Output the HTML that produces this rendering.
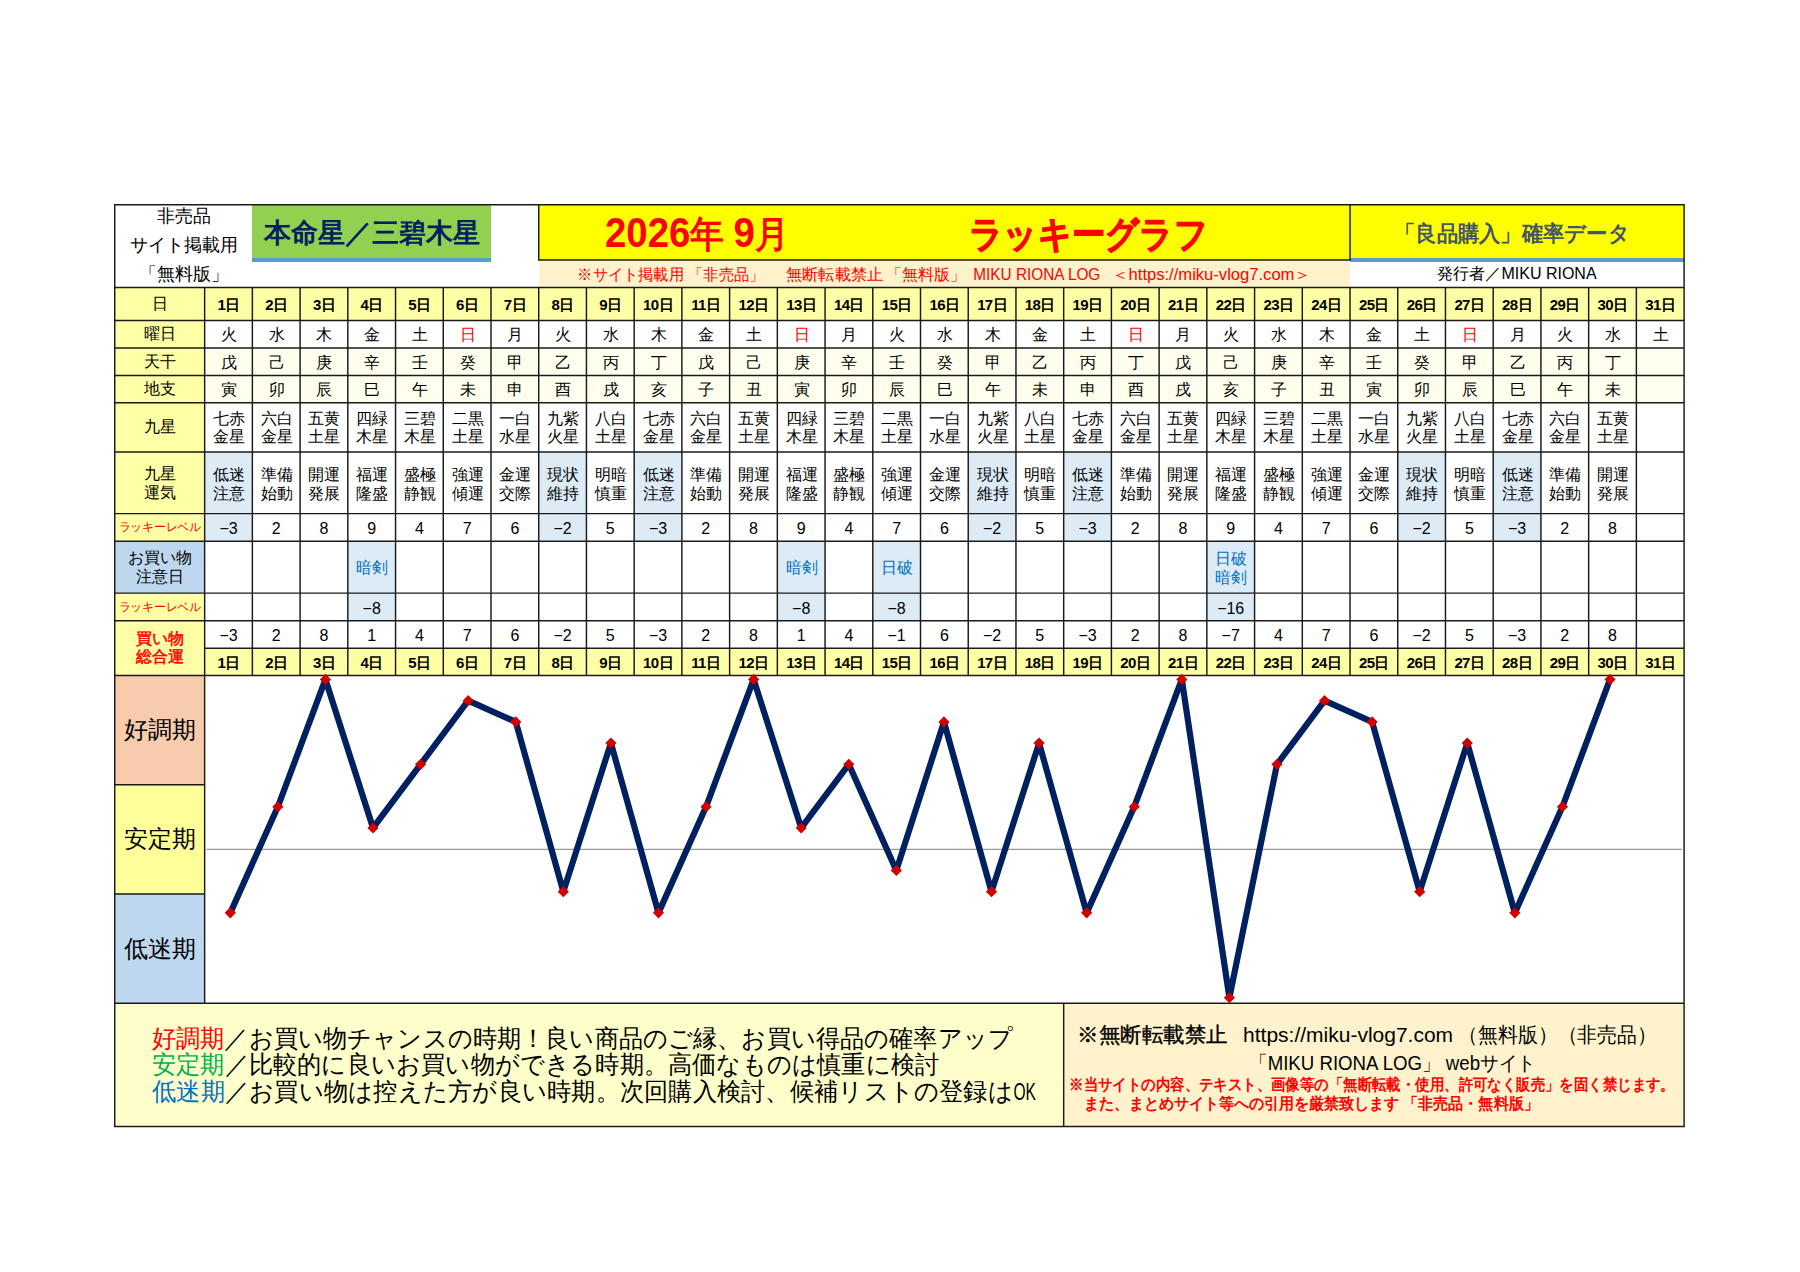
<!DOCTYPE html>
<html lang="ja"><head><meta charset="utf-8"><title>ラッキーグラフ 2026年9月</title>
<style>
*{margin:0;padding:0;box-sizing:border-box}
html,body{width:1800px;height:1272px;background:#fff;overflow:hidden}
body{position:relative;font-family:"Liberation Sans",sans-serif;color:#000;font-size:16px}
.p{position:absolute;display:flex;align-items:center;justify-content:center;text-align:center;white-space:nowrap;line-height:1}
.p span{display:block}
.two{flex-direction:column}
.k{padding-top:3.5px}
.k span{line-height:18px}
.u span{line-height:19px}
.warn span{line-height:19px}
.lab.two span{line-height:19px}
.sumlab span{line-height:18.5px}
.lab{font-size:16px}
.c{font-size:16px;padding-top:2px;padding-left:1px}
.n{font-size:16px;padding-top:3.5px}
.dayh{font-size:15px;font-weight:bold;letter-spacing:-0.6px;padding-top:1px}
.red{color:#FF0000}
.lucky{color:#FF0000;font-size:12.2px;letter-spacing:-0.25px}
.warn{color:#0070C0}
.sumlab{color:#FF0000;font-size:16px;-webkit-text-stroke:0.5px #FF0000}
.big{font-size:24px}
svg{position:absolute;left:0;top:0}
svg text{font-family:"Liberation Sans",sans-serif}
</style></head><body>

<div class="p" style="left:252.37px;top:204.75px;width:238.62px;height:53.95px;background:#92D050;"></div>
<div class="p" style="left:252.37px;top:258.4px;width:238.62px;height:3.9px;background:#5B9BD5;"></div>
<div class="p" style="left:538.72px;top:204.75px;width:811.31px;height:55.25px;background:#FFFF00;"></div>
<div class="p" style="left:1350.03px;top:204.75px;width:334.07px;height:53.95px;background:#FFFF00;"></div>
<div class="p" style="left:1350.03px;top:258.4px;width:334.07px;height:3.9px;background:#5B9BD5;"></div>
<div class="p" style="left:538.72px;top:260px;width:811.31px;height:27.5px;background:#FFF2CC;"></div>
<div class="p" style="left:114.75px;top:1003.2px;width:948.93px;height:123.2px;background:#FFFFCC;"></div>
<div class="p" style="left:1063.68px;top:1003.2px;width:620.42px;height:123.2px;background:#FFF2CC;"></div>
<div class="p lab" style="left:114.75px;top:287.5px;width:89.9px;height:32.9px;background:#FFFFA6;">日</div>
<div class="p lab" style="left:114.75px;top:320.4px;width:89.9px;height:27.5px;background:#FFFFA6;">曜日</div>
<div class="p lab" style="left:114.75px;top:347.9px;width:89.9px;height:27.6px;background:#FFFFA6;">天干</div>
<div class="p lab" style="left:114.75px;top:375.5px;width:89.9px;height:27.3px;background:#FFFFA6;">地支</div>
<div class="p lab" style="left:114.75px;top:402.8px;width:89.9px;height:49.2px;background:#FFFFA6;">九星</div>
<div class="p lab two" style="left:114.75px;top:452px;width:89.9px;height:61.6px;background:#FFFFA6;"><span>九星</span><span>運気</span></div>
<div class="p lucky" style="left:114.75px;top:513.6px;width:89.9px;height:27.6px;background:#FFFFA6;">ラッキーレベル</div>
<div class="p lab two" style="left:114.75px;top:541.2px;width:89.9px;height:51.9px;background:#BDD7EE;"><span>お買い物</span><span>注意日</span></div>
<div class="p lucky" style="left:114.75px;top:593.1px;width:89.9px;height:27.6px;background:#FFFFA6;">ラッキーレベル</div>
<div class="p sumlab two" style="left:114.75px;top:620.7px;width:89.9px;height:54.8px;background:#FFFFA6;"><span>買い物</span><span>総合運</span></div>
<div class="p big" style="left:114.75px;top:675.5px;width:89.9px;height:109.3px;background:#F8CBAD;">好調期</div>
<div class="p big" style="left:114.75px;top:784.8px;width:89.9px;height:109.2px;background:#FFFF99;">安定期</div>
<div class="p big" style="left:114.75px;top:894px;width:89.9px;height:109.2px;background:#BDD7EE;">低迷期</div>
<div class="p dayh" style="left:204.65px;top:287.5px;width:47.72px;height:32.9px;background:#FFFFA6;">1日</div>
<div class="p c" style="left:204.65px;top:320.4px;width:47.72px;height:27.5px;">火</div>
<div class="p c" style="left:204.65px;top:347.9px;width:47.72px;height:27.6px;background:#FFFFEE;">戊</div>
<div class="p c" style="left:204.65px;top:375.5px;width:47.72px;height:27.3px;background:#FFFFEE;">寅</div>
<div class="p c two k" style="left:204.65px;top:402.8px;width:47.72px;height:49.2px;"><span>七赤</span><span>金星</span></div>
<div class="p c two u" style="left:204.65px;top:452px;width:47.72px;height:61.6px;background:#DDEBF7;"><span>低迷</span><span>注意</span></div>
<div class="p n" style="left:204.65px;top:513.6px;width:47.72px;height:27.6px;background:#DDEBF7;">−3</div>
<div class="p n" style="left:204.65px;top:620.7px;width:47.72px;height:27.6px;">−3</div>
<div class="p dayh" style="left:204.65px;top:648.3px;width:47.72px;height:27.2px;background:#FFFFA6;">1日</div>
<div class="p dayh" style="left:252.37px;top:287.5px;width:47.72px;height:32.9px;background:#FFFFA6;">2日</div>
<div class="p c" style="left:252.37px;top:320.4px;width:47.72px;height:27.5px;">水</div>
<div class="p c" style="left:252.37px;top:347.9px;width:47.72px;height:27.6px;background:#FFFFEE;">己</div>
<div class="p c" style="left:252.37px;top:375.5px;width:47.72px;height:27.3px;background:#FFFFEE;">卯</div>
<div class="p c two k" style="left:252.37px;top:402.8px;width:47.72px;height:49.2px;"><span>六白</span><span>金星</span></div>
<div class="p c two u" style="left:252.37px;top:452px;width:47.72px;height:61.6px;"><span>準備</span><span>始動</span></div>
<div class="p n" style="left:252.37px;top:513.6px;width:47.72px;height:27.6px;">2</div>
<div class="p n" style="left:252.37px;top:620.7px;width:47.72px;height:27.6px;">2</div>
<div class="p dayh" style="left:252.37px;top:648.3px;width:47.72px;height:27.2px;background:#FFFFA6;">2日</div>
<div class="p dayh" style="left:300.1px;top:287.5px;width:47.72px;height:32.9px;background:#FFFFA6;">3日</div>
<div class="p c" style="left:300.1px;top:320.4px;width:47.72px;height:27.5px;">木</div>
<div class="p c" style="left:300.1px;top:347.9px;width:47.72px;height:27.6px;background:#FFFFEE;">庚</div>
<div class="p c" style="left:300.1px;top:375.5px;width:47.72px;height:27.3px;background:#FFFFEE;">辰</div>
<div class="p c two k" style="left:300.1px;top:402.8px;width:47.72px;height:49.2px;"><span>五黄</span><span>土星</span></div>
<div class="p c two u" style="left:300.1px;top:452px;width:47.72px;height:61.6px;"><span>開運</span><span>発展</span></div>
<div class="p n" style="left:300.1px;top:513.6px;width:47.72px;height:27.6px;">8</div>
<div class="p n" style="left:300.1px;top:620.7px;width:47.72px;height:27.6px;">8</div>
<div class="p dayh" style="left:300.1px;top:648.3px;width:47.72px;height:27.2px;background:#FFFFA6;">3日</div>
<div class="p dayh" style="left:347.82px;top:287.5px;width:47.72px;height:32.9px;background:#FFFFA6;">4日</div>
<div class="p c" style="left:347.82px;top:320.4px;width:47.72px;height:27.5px;">金</div>
<div class="p c" style="left:347.82px;top:347.9px;width:47.72px;height:27.6px;background:#FFFFEE;">辛</div>
<div class="p c" style="left:347.82px;top:375.5px;width:47.72px;height:27.3px;background:#FFFFEE;">巳</div>
<div class="p c two k" style="left:347.82px;top:402.8px;width:47.72px;height:49.2px;"><span>四緑</span><span>木星</span></div>
<div class="p c two u" style="left:347.82px;top:452px;width:47.72px;height:61.6px;"><span>福運</span><span>隆盛</span></div>
<div class="p n" style="left:347.82px;top:513.6px;width:47.72px;height:27.6px;">9</div>
<div class="p c two warn" style="left:347.82px;top:541.2px;width:47.72px;height:51.9px;background:#DDEBF7;">暗剣</div>
<div class="p n" style="left:347.82px;top:593.1px;width:47.72px;height:27.6px;background:#DDEBF7;">−8</div>
<div class="p n" style="left:347.82px;top:620.7px;width:47.72px;height:27.6px;">1</div>
<div class="p dayh" style="left:347.82px;top:648.3px;width:47.72px;height:27.2px;background:#FFFFA6;">4日</div>
<div class="p dayh" style="left:395.55px;top:287.5px;width:47.72px;height:32.9px;background:#FFFFA6;">5日</div>
<div class="p c" style="left:395.55px;top:320.4px;width:47.72px;height:27.5px;">土</div>
<div class="p c" style="left:395.55px;top:347.9px;width:47.72px;height:27.6px;background:#FFFFEE;">壬</div>
<div class="p c" style="left:395.55px;top:375.5px;width:47.72px;height:27.3px;background:#FFFFEE;">午</div>
<div class="p c two k" style="left:395.55px;top:402.8px;width:47.72px;height:49.2px;"><span>三碧</span><span>木星</span></div>
<div class="p c two u" style="left:395.55px;top:452px;width:47.72px;height:61.6px;"><span>盛極</span><span>静観</span></div>
<div class="p n" style="left:395.55px;top:513.6px;width:47.72px;height:27.6px;">4</div>
<div class="p n" style="left:395.55px;top:620.7px;width:47.72px;height:27.6px;">4</div>
<div class="p dayh" style="left:395.55px;top:648.3px;width:47.72px;height:27.2px;background:#FFFFA6;">5日</div>
<div class="p dayh" style="left:443.27px;top:287.5px;width:47.72px;height:32.9px;background:#FFFFA6;">6日</div>
<div class="p c red" style="left:443.27px;top:320.4px;width:47.72px;height:27.5px;">日</div>
<div class="p c" style="left:443.27px;top:347.9px;width:47.72px;height:27.6px;background:#FFFFEE;">癸</div>
<div class="p c" style="left:443.27px;top:375.5px;width:47.72px;height:27.3px;background:#FFFFEE;">未</div>
<div class="p c two k" style="left:443.27px;top:402.8px;width:47.72px;height:49.2px;"><span>二黒</span><span>土星</span></div>
<div class="p c two u" style="left:443.27px;top:452px;width:47.72px;height:61.6px;"><span>強運</span><span>傾運</span></div>
<div class="p n" style="left:443.27px;top:513.6px;width:47.72px;height:27.6px;">7</div>
<div class="p n" style="left:443.27px;top:620.7px;width:47.72px;height:27.6px;">7</div>
<div class="p dayh" style="left:443.27px;top:648.3px;width:47.72px;height:27.2px;background:#FFFFA6;">6日</div>
<div class="p dayh" style="left:490.99px;top:287.5px;width:47.72px;height:32.9px;background:#FFFFA6;">7日</div>
<div class="p c" style="left:490.99px;top:320.4px;width:47.72px;height:27.5px;">月</div>
<div class="p c" style="left:490.99px;top:347.9px;width:47.72px;height:27.6px;background:#FFFFEE;">甲</div>
<div class="p c" style="left:490.99px;top:375.5px;width:47.72px;height:27.3px;background:#FFFFEE;">申</div>
<div class="p c two k" style="left:490.99px;top:402.8px;width:47.72px;height:49.2px;"><span>一白</span><span>水星</span></div>
<div class="p c two u" style="left:490.99px;top:452px;width:47.72px;height:61.6px;"><span>金運</span><span>交際</span></div>
<div class="p n" style="left:490.99px;top:513.6px;width:47.72px;height:27.6px;">6</div>
<div class="p n" style="left:490.99px;top:620.7px;width:47.72px;height:27.6px;">6</div>
<div class="p dayh" style="left:490.99px;top:648.3px;width:47.72px;height:27.2px;background:#FFFFA6;">7日</div>
<div class="p dayh" style="left:538.72px;top:287.5px;width:47.72px;height:32.9px;background:#FFFFA6;">8日</div>
<div class="p c" style="left:538.72px;top:320.4px;width:47.72px;height:27.5px;">火</div>
<div class="p c" style="left:538.72px;top:347.9px;width:47.72px;height:27.6px;background:#FFFFEE;">乙</div>
<div class="p c" style="left:538.72px;top:375.5px;width:47.72px;height:27.3px;background:#FFFFEE;">酉</div>
<div class="p c two k" style="left:538.72px;top:402.8px;width:47.72px;height:49.2px;"><span>九紫</span><span>火星</span></div>
<div class="p c two u" style="left:538.72px;top:452px;width:47.72px;height:61.6px;background:#DDEBF7;"><span>現状</span><span>維持</span></div>
<div class="p n" style="left:538.72px;top:513.6px;width:47.72px;height:27.6px;background:#DDEBF7;">−2</div>
<div class="p n" style="left:538.72px;top:620.7px;width:47.72px;height:27.6px;">−2</div>
<div class="p dayh" style="left:538.72px;top:648.3px;width:47.72px;height:27.2px;background:#FFFFA6;">8日</div>
<div class="p dayh" style="left:586.44px;top:287.5px;width:47.72px;height:32.9px;background:#FFFFA6;">9日</div>
<div class="p c" style="left:586.44px;top:320.4px;width:47.72px;height:27.5px;">水</div>
<div class="p c" style="left:586.44px;top:347.9px;width:47.72px;height:27.6px;background:#FFFFEE;">丙</div>
<div class="p c" style="left:586.44px;top:375.5px;width:47.72px;height:27.3px;background:#FFFFEE;">戌</div>
<div class="p c two k" style="left:586.44px;top:402.8px;width:47.72px;height:49.2px;"><span>八白</span><span>土星</span></div>
<div class="p c two u" style="left:586.44px;top:452px;width:47.72px;height:61.6px;"><span>明暗</span><span>慎重</span></div>
<div class="p n" style="left:586.44px;top:513.6px;width:47.72px;height:27.6px;">5</div>
<div class="p n" style="left:586.44px;top:620.7px;width:47.72px;height:27.6px;">5</div>
<div class="p dayh" style="left:586.44px;top:648.3px;width:47.72px;height:27.2px;background:#FFFFA6;">9日</div>
<div class="p dayh" style="left:634.17px;top:287.5px;width:47.72px;height:32.9px;background:#FFFFA6;">10日</div>
<div class="p c" style="left:634.17px;top:320.4px;width:47.72px;height:27.5px;">木</div>
<div class="p c" style="left:634.17px;top:347.9px;width:47.72px;height:27.6px;background:#FFFFEE;">丁</div>
<div class="p c" style="left:634.17px;top:375.5px;width:47.72px;height:27.3px;background:#FFFFEE;">亥</div>
<div class="p c two k" style="left:634.17px;top:402.8px;width:47.72px;height:49.2px;"><span>七赤</span><span>金星</span></div>
<div class="p c two u" style="left:634.17px;top:452px;width:47.72px;height:61.6px;background:#DDEBF7;"><span>低迷</span><span>注意</span></div>
<div class="p n" style="left:634.17px;top:513.6px;width:47.72px;height:27.6px;background:#DDEBF7;">−3</div>
<div class="p n" style="left:634.17px;top:620.7px;width:47.72px;height:27.6px;">−3</div>
<div class="p dayh" style="left:634.17px;top:648.3px;width:47.72px;height:27.2px;background:#FFFFA6;">10日</div>
<div class="p dayh" style="left:681.89px;top:287.5px;width:47.72px;height:32.9px;background:#FFFFA6;">11日</div>
<div class="p c" style="left:681.89px;top:320.4px;width:47.72px;height:27.5px;">金</div>
<div class="p c" style="left:681.89px;top:347.9px;width:47.72px;height:27.6px;background:#FFFFEE;">戊</div>
<div class="p c" style="left:681.89px;top:375.5px;width:47.72px;height:27.3px;background:#FFFFEE;">子</div>
<div class="p c two k" style="left:681.89px;top:402.8px;width:47.72px;height:49.2px;"><span>六白</span><span>金星</span></div>
<div class="p c two u" style="left:681.89px;top:452px;width:47.72px;height:61.6px;"><span>準備</span><span>始動</span></div>
<div class="p n" style="left:681.89px;top:513.6px;width:47.72px;height:27.6px;">2</div>
<div class="p n" style="left:681.89px;top:620.7px;width:47.72px;height:27.6px;">2</div>
<div class="p dayh" style="left:681.89px;top:648.3px;width:47.72px;height:27.2px;background:#FFFFA6;">11日</div>
<div class="p dayh" style="left:729.61px;top:287.5px;width:47.72px;height:32.9px;background:#FFFFA6;">12日</div>
<div class="p c" style="left:729.61px;top:320.4px;width:47.72px;height:27.5px;">土</div>
<div class="p c" style="left:729.61px;top:347.9px;width:47.72px;height:27.6px;background:#FFFFEE;">己</div>
<div class="p c" style="left:729.61px;top:375.5px;width:47.72px;height:27.3px;background:#FFFFEE;">丑</div>
<div class="p c two k" style="left:729.61px;top:402.8px;width:47.72px;height:49.2px;"><span>五黄</span><span>土星</span></div>
<div class="p c two u" style="left:729.61px;top:452px;width:47.72px;height:61.6px;"><span>開運</span><span>発展</span></div>
<div class="p n" style="left:729.61px;top:513.6px;width:47.72px;height:27.6px;">8</div>
<div class="p n" style="left:729.61px;top:620.7px;width:47.72px;height:27.6px;">8</div>
<div class="p dayh" style="left:729.61px;top:648.3px;width:47.72px;height:27.2px;background:#FFFFA6;">12日</div>
<div class="p dayh" style="left:777.34px;top:287.5px;width:47.72px;height:32.9px;background:#FFFFA6;">13日</div>
<div class="p c red" style="left:777.34px;top:320.4px;width:47.72px;height:27.5px;">日</div>
<div class="p c" style="left:777.34px;top:347.9px;width:47.72px;height:27.6px;background:#FFFFEE;">庚</div>
<div class="p c" style="left:777.34px;top:375.5px;width:47.72px;height:27.3px;background:#FFFFEE;">寅</div>
<div class="p c two k" style="left:777.34px;top:402.8px;width:47.72px;height:49.2px;"><span>四緑</span><span>木星</span></div>
<div class="p c two u" style="left:777.34px;top:452px;width:47.72px;height:61.6px;"><span>福運</span><span>隆盛</span></div>
<div class="p n" style="left:777.34px;top:513.6px;width:47.72px;height:27.6px;">9</div>
<div class="p c two warn" style="left:777.34px;top:541.2px;width:47.72px;height:51.9px;background:#DDEBF7;">暗剣</div>
<div class="p n" style="left:777.34px;top:593.1px;width:47.72px;height:27.6px;background:#DDEBF7;">−8</div>
<div class="p n" style="left:777.34px;top:620.7px;width:47.72px;height:27.6px;">1</div>
<div class="p dayh" style="left:777.34px;top:648.3px;width:47.72px;height:27.2px;background:#FFFFA6;">13日</div>
<div class="p dayh" style="left:825.06px;top:287.5px;width:47.72px;height:32.9px;background:#FFFFA6;">14日</div>
<div class="p c" style="left:825.06px;top:320.4px;width:47.72px;height:27.5px;">月</div>
<div class="p c" style="left:825.06px;top:347.9px;width:47.72px;height:27.6px;background:#FFFFEE;">辛</div>
<div class="p c" style="left:825.06px;top:375.5px;width:47.72px;height:27.3px;background:#FFFFEE;">卯</div>
<div class="p c two k" style="left:825.06px;top:402.8px;width:47.72px;height:49.2px;"><span>三碧</span><span>木星</span></div>
<div class="p c two u" style="left:825.06px;top:452px;width:47.72px;height:61.6px;"><span>盛極</span><span>静観</span></div>
<div class="p n" style="left:825.06px;top:513.6px;width:47.72px;height:27.6px;">4</div>
<div class="p n" style="left:825.06px;top:620.7px;width:47.72px;height:27.6px;">4</div>
<div class="p dayh" style="left:825.06px;top:648.3px;width:47.72px;height:27.2px;background:#FFFFA6;">14日</div>
<div class="p dayh" style="left:872.79px;top:287.5px;width:47.72px;height:32.9px;background:#FFFFA6;">15日</div>
<div class="p c" style="left:872.79px;top:320.4px;width:47.72px;height:27.5px;">火</div>
<div class="p c" style="left:872.79px;top:347.9px;width:47.72px;height:27.6px;background:#FFFFEE;">壬</div>
<div class="p c" style="left:872.79px;top:375.5px;width:47.72px;height:27.3px;background:#FFFFEE;">辰</div>
<div class="p c two k" style="left:872.79px;top:402.8px;width:47.72px;height:49.2px;"><span>二黒</span><span>土星</span></div>
<div class="p c two u" style="left:872.79px;top:452px;width:47.72px;height:61.6px;"><span>強運</span><span>傾運</span></div>
<div class="p n" style="left:872.79px;top:513.6px;width:47.72px;height:27.6px;">7</div>
<div class="p c two warn" style="left:872.79px;top:541.2px;width:47.72px;height:51.9px;background:#DDEBF7;">日破</div>
<div class="p n" style="left:872.79px;top:593.1px;width:47.72px;height:27.6px;background:#DDEBF7;">−8</div>
<div class="p n" style="left:872.79px;top:620.7px;width:47.72px;height:27.6px;">−1</div>
<div class="p dayh" style="left:872.79px;top:648.3px;width:47.72px;height:27.2px;background:#FFFFA6;">15日</div>
<div class="p dayh" style="left:920.51px;top:287.5px;width:47.72px;height:32.9px;background:#FFFFA6;">16日</div>
<div class="p c" style="left:920.51px;top:320.4px;width:47.72px;height:27.5px;">水</div>
<div class="p c" style="left:920.51px;top:347.9px;width:47.72px;height:27.6px;background:#FFFFEE;">癸</div>
<div class="p c" style="left:920.51px;top:375.5px;width:47.72px;height:27.3px;background:#FFFFEE;">巳</div>
<div class="p c two k" style="left:920.51px;top:402.8px;width:47.72px;height:49.2px;"><span>一白</span><span>水星</span></div>
<div class="p c two u" style="left:920.51px;top:452px;width:47.72px;height:61.6px;"><span>金運</span><span>交際</span></div>
<div class="p n" style="left:920.51px;top:513.6px;width:47.72px;height:27.6px;">6</div>
<div class="p n" style="left:920.51px;top:620.7px;width:47.72px;height:27.6px;">6</div>
<div class="p dayh" style="left:920.51px;top:648.3px;width:47.72px;height:27.2px;background:#FFFFA6;">16日</div>
<div class="p dayh" style="left:968.23px;top:287.5px;width:47.72px;height:32.9px;background:#FFFFA6;">17日</div>
<div class="p c" style="left:968.23px;top:320.4px;width:47.72px;height:27.5px;">木</div>
<div class="p c" style="left:968.23px;top:347.9px;width:47.72px;height:27.6px;background:#FFFFEE;">甲</div>
<div class="p c" style="left:968.23px;top:375.5px;width:47.72px;height:27.3px;background:#FFFFEE;">午</div>
<div class="p c two k" style="left:968.23px;top:402.8px;width:47.72px;height:49.2px;"><span>九紫</span><span>火星</span></div>
<div class="p c two u" style="left:968.23px;top:452px;width:47.72px;height:61.6px;background:#DDEBF7;"><span>現状</span><span>維持</span></div>
<div class="p n" style="left:968.23px;top:513.6px;width:47.72px;height:27.6px;background:#DDEBF7;">−2</div>
<div class="p n" style="left:968.23px;top:620.7px;width:47.72px;height:27.6px;">−2</div>
<div class="p dayh" style="left:968.23px;top:648.3px;width:47.72px;height:27.2px;background:#FFFFA6;">17日</div>
<div class="p dayh" style="left:1015.96px;top:287.5px;width:47.72px;height:32.9px;background:#FFFFA6;">18日</div>
<div class="p c" style="left:1015.96px;top:320.4px;width:47.72px;height:27.5px;">金</div>
<div class="p c" style="left:1015.96px;top:347.9px;width:47.72px;height:27.6px;background:#FFFFEE;">乙</div>
<div class="p c" style="left:1015.96px;top:375.5px;width:47.72px;height:27.3px;background:#FFFFEE;">未</div>
<div class="p c two k" style="left:1015.96px;top:402.8px;width:47.72px;height:49.2px;"><span>八白</span><span>土星</span></div>
<div class="p c two u" style="left:1015.96px;top:452px;width:47.72px;height:61.6px;"><span>明暗</span><span>慎重</span></div>
<div class="p n" style="left:1015.96px;top:513.6px;width:47.72px;height:27.6px;">5</div>
<div class="p n" style="left:1015.96px;top:620.7px;width:47.72px;height:27.6px;">5</div>
<div class="p dayh" style="left:1015.96px;top:648.3px;width:47.72px;height:27.2px;background:#FFFFA6;">18日</div>
<div class="p dayh" style="left:1063.68px;top:287.5px;width:47.72px;height:32.9px;background:#FFFFA6;">19日</div>
<div class="p c" style="left:1063.68px;top:320.4px;width:47.72px;height:27.5px;">土</div>
<div class="p c" style="left:1063.68px;top:347.9px;width:47.72px;height:27.6px;background:#FFFFEE;">丙</div>
<div class="p c" style="left:1063.68px;top:375.5px;width:47.72px;height:27.3px;background:#FFFFEE;">申</div>
<div class="p c two k" style="left:1063.68px;top:402.8px;width:47.72px;height:49.2px;"><span>七赤</span><span>金星</span></div>
<div class="p c two u" style="left:1063.68px;top:452px;width:47.72px;height:61.6px;background:#DDEBF7;"><span>低迷</span><span>注意</span></div>
<div class="p n" style="left:1063.68px;top:513.6px;width:47.72px;height:27.6px;background:#DDEBF7;">−3</div>
<div class="p n" style="left:1063.68px;top:620.7px;width:47.72px;height:27.6px;">−3</div>
<div class="p dayh" style="left:1063.68px;top:648.3px;width:47.72px;height:27.2px;background:#FFFFA6;">19日</div>
<div class="p dayh" style="left:1111.41px;top:287.5px;width:47.72px;height:32.9px;background:#FFFFA6;">20日</div>
<div class="p c red" style="left:1111.41px;top:320.4px;width:47.72px;height:27.5px;">日</div>
<div class="p c" style="left:1111.41px;top:347.9px;width:47.72px;height:27.6px;background:#FFFFEE;">丁</div>
<div class="p c" style="left:1111.41px;top:375.5px;width:47.72px;height:27.3px;background:#FFFFEE;">酉</div>
<div class="p c two k" style="left:1111.41px;top:402.8px;width:47.72px;height:49.2px;"><span>六白</span><span>金星</span></div>
<div class="p c two u" style="left:1111.41px;top:452px;width:47.72px;height:61.6px;"><span>準備</span><span>始動</span></div>
<div class="p n" style="left:1111.41px;top:513.6px;width:47.72px;height:27.6px;">2</div>
<div class="p n" style="left:1111.41px;top:620.7px;width:47.72px;height:27.6px;">2</div>
<div class="p dayh" style="left:1111.41px;top:648.3px;width:47.72px;height:27.2px;background:#FFFFA6;">20日</div>
<div class="p dayh" style="left:1159.13px;top:287.5px;width:47.72px;height:32.9px;background:#FFFFA6;">21日</div>
<div class="p c" style="left:1159.13px;top:320.4px;width:47.72px;height:27.5px;">月</div>
<div class="p c" style="left:1159.13px;top:347.9px;width:47.72px;height:27.6px;background:#FFFFEE;">戊</div>
<div class="p c" style="left:1159.13px;top:375.5px;width:47.72px;height:27.3px;background:#FFFFEE;">戌</div>
<div class="p c two k" style="left:1159.13px;top:402.8px;width:47.72px;height:49.2px;"><span>五黄</span><span>土星</span></div>
<div class="p c two u" style="left:1159.13px;top:452px;width:47.72px;height:61.6px;"><span>開運</span><span>発展</span></div>
<div class="p n" style="left:1159.13px;top:513.6px;width:47.72px;height:27.6px;">8</div>
<div class="p n" style="left:1159.13px;top:620.7px;width:47.72px;height:27.6px;">8</div>
<div class="p dayh" style="left:1159.13px;top:648.3px;width:47.72px;height:27.2px;background:#FFFFA6;">21日</div>
<div class="p dayh" style="left:1206.85px;top:287.5px;width:47.72px;height:32.9px;background:#FFFFA6;">22日</div>
<div class="p c" style="left:1206.85px;top:320.4px;width:47.72px;height:27.5px;">火</div>
<div class="p c" style="left:1206.85px;top:347.9px;width:47.72px;height:27.6px;background:#FFFFEE;">己</div>
<div class="p c" style="left:1206.85px;top:375.5px;width:47.72px;height:27.3px;background:#FFFFEE;">亥</div>
<div class="p c two k" style="left:1206.85px;top:402.8px;width:47.72px;height:49.2px;"><span>四緑</span><span>木星</span></div>
<div class="p c two u" style="left:1206.85px;top:452px;width:47.72px;height:61.6px;"><span>福運</span><span>隆盛</span></div>
<div class="p n" style="left:1206.85px;top:513.6px;width:47.72px;height:27.6px;">9</div>
<div class="p c two warn" style="left:1206.85px;top:541.2px;width:47.72px;height:51.9px;background:#DDEBF7;"><span>日破</span><span>暗剣</span></div>
<div class="p n" style="left:1206.85px;top:593.1px;width:47.72px;height:27.6px;background:#DDEBF7;">−16</div>
<div class="p n" style="left:1206.85px;top:620.7px;width:47.72px;height:27.6px;">−7</div>
<div class="p dayh" style="left:1206.85px;top:648.3px;width:47.72px;height:27.2px;background:#FFFFA6;">22日</div>
<div class="p dayh" style="left:1254.58px;top:287.5px;width:47.72px;height:32.9px;background:#FFFFA6;">23日</div>
<div class="p c" style="left:1254.58px;top:320.4px;width:47.72px;height:27.5px;">水</div>
<div class="p c" style="left:1254.58px;top:347.9px;width:47.72px;height:27.6px;background:#FFFFEE;">庚</div>
<div class="p c" style="left:1254.58px;top:375.5px;width:47.72px;height:27.3px;background:#FFFFEE;">子</div>
<div class="p c two k" style="left:1254.58px;top:402.8px;width:47.72px;height:49.2px;"><span>三碧</span><span>木星</span></div>
<div class="p c two u" style="left:1254.58px;top:452px;width:47.72px;height:61.6px;"><span>盛極</span><span>静観</span></div>
<div class="p n" style="left:1254.58px;top:513.6px;width:47.72px;height:27.6px;">4</div>
<div class="p n" style="left:1254.58px;top:620.7px;width:47.72px;height:27.6px;">4</div>
<div class="p dayh" style="left:1254.58px;top:648.3px;width:47.72px;height:27.2px;background:#FFFFA6;">23日</div>
<div class="p dayh" style="left:1302.3px;top:287.5px;width:47.72px;height:32.9px;background:#FFFFA6;">24日</div>
<div class="p c" style="left:1302.3px;top:320.4px;width:47.72px;height:27.5px;">木</div>
<div class="p c" style="left:1302.3px;top:347.9px;width:47.72px;height:27.6px;background:#FFFFEE;">辛</div>
<div class="p c" style="left:1302.3px;top:375.5px;width:47.72px;height:27.3px;background:#FFFFEE;">丑</div>
<div class="p c two k" style="left:1302.3px;top:402.8px;width:47.72px;height:49.2px;"><span>二黒</span><span>土星</span></div>
<div class="p c two u" style="left:1302.3px;top:452px;width:47.72px;height:61.6px;"><span>強運</span><span>傾運</span></div>
<div class="p n" style="left:1302.3px;top:513.6px;width:47.72px;height:27.6px;">7</div>
<div class="p n" style="left:1302.3px;top:620.7px;width:47.72px;height:27.6px;">7</div>
<div class="p dayh" style="left:1302.3px;top:648.3px;width:47.72px;height:27.2px;background:#FFFFA6;">24日</div>
<div class="p dayh" style="left:1350.03px;top:287.5px;width:47.72px;height:32.9px;background:#FFFFA6;">25日</div>
<div class="p c" style="left:1350.03px;top:320.4px;width:47.72px;height:27.5px;">金</div>
<div class="p c" style="left:1350.03px;top:347.9px;width:47.72px;height:27.6px;background:#FFFFEE;">壬</div>
<div class="p c" style="left:1350.03px;top:375.5px;width:47.72px;height:27.3px;background:#FFFFEE;">寅</div>
<div class="p c two k" style="left:1350.03px;top:402.8px;width:47.72px;height:49.2px;"><span>一白</span><span>水星</span></div>
<div class="p c two u" style="left:1350.03px;top:452px;width:47.72px;height:61.6px;"><span>金運</span><span>交際</span></div>
<div class="p n" style="left:1350.03px;top:513.6px;width:47.72px;height:27.6px;">6</div>
<div class="p n" style="left:1350.03px;top:620.7px;width:47.72px;height:27.6px;">6</div>
<div class="p dayh" style="left:1350.03px;top:648.3px;width:47.72px;height:27.2px;background:#FFFFA6;">25日</div>
<div class="p dayh" style="left:1397.75px;top:287.5px;width:47.72px;height:32.9px;background:#FFFFA6;">26日</div>
<div class="p c" style="left:1397.75px;top:320.4px;width:47.72px;height:27.5px;">土</div>
<div class="p c" style="left:1397.75px;top:347.9px;width:47.72px;height:27.6px;background:#FFFFEE;">癸</div>
<div class="p c" style="left:1397.75px;top:375.5px;width:47.72px;height:27.3px;background:#FFFFEE;">卯</div>
<div class="p c two k" style="left:1397.75px;top:402.8px;width:47.72px;height:49.2px;"><span>九紫</span><span>火星</span></div>
<div class="p c two u" style="left:1397.75px;top:452px;width:47.72px;height:61.6px;background:#DDEBF7;"><span>現状</span><span>維持</span></div>
<div class="p n" style="left:1397.75px;top:513.6px;width:47.72px;height:27.6px;background:#DDEBF7;">−2</div>
<div class="p n" style="left:1397.75px;top:620.7px;width:47.72px;height:27.6px;">−2</div>
<div class="p dayh" style="left:1397.75px;top:648.3px;width:47.72px;height:27.2px;background:#FFFFA6;">26日</div>
<div class="p dayh" style="left:1445.47px;top:287.5px;width:47.72px;height:32.9px;background:#FFFFA6;">27日</div>
<div class="p c red" style="left:1445.47px;top:320.4px;width:47.72px;height:27.5px;">日</div>
<div class="p c" style="left:1445.47px;top:347.9px;width:47.72px;height:27.6px;background:#FFFFEE;">甲</div>
<div class="p c" style="left:1445.47px;top:375.5px;width:47.72px;height:27.3px;background:#FFFFEE;">辰</div>
<div class="p c two k" style="left:1445.47px;top:402.8px;width:47.72px;height:49.2px;"><span>八白</span><span>土星</span></div>
<div class="p c two u" style="left:1445.47px;top:452px;width:47.72px;height:61.6px;"><span>明暗</span><span>慎重</span></div>
<div class="p n" style="left:1445.47px;top:513.6px;width:47.72px;height:27.6px;">5</div>
<div class="p n" style="left:1445.47px;top:620.7px;width:47.72px;height:27.6px;">5</div>
<div class="p dayh" style="left:1445.47px;top:648.3px;width:47.72px;height:27.2px;background:#FFFFA6;">27日</div>
<div class="p dayh" style="left:1493.2px;top:287.5px;width:47.72px;height:32.9px;background:#FFFFA6;">28日</div>
<div class="p c" style="left:1493.2px;top:320.4px;width:47.72px;height:27.5px;">月</div>
<div class="p c" style="left:1493.2px;top:347.9px;width:47.72px;height:27.6px;background:#FFFFEE;">乙</div>
<div class="p c" style="left:1493.2px;top:375.5px;width:47.72px;height:27.3px;background:#FFFFEE;">巳</div>
<div class="p c two k" style="left:1493.2px;top:402.8px;width:47.72px;height:49.2px;"><span>七赤</span><span>金星</span></div>
<div class="p c two u" style="left:1493.2px;top:452px;width:47.72px;height:61.6px;background:#DDEBF7;"><span>低迷</span><span>注意</span></div>
<div class="p n" style="left:1493.2px;top:513.6px;width:47.72px;height:27.6px;background:#DDEBF7;">−3</div>
<div class="p n" style="left:1493.2px;top:620.7px;width:47.72px;height:27.6px;">−3</div>
<div class="p dayh" style="left:1493.2px;top:648.3px;width:47.72px;height:27.2px;background:#FFFFA6;">28日</div>
<div class="p dayh" style="left:1540.92px;top:287.5px;width:47.72px;height:32.9px;background:#FFFFA6;">29日</div>
<div class="p c" style="left:1540.92px;top:320.4px;width:47.72px;height:27.5px;">火</div>
<div class="p c" style="left:1540.92px;top:347.9px;width:47.72px;height:27.6px;background:#FFFFEE;">丙</div>
<div class="p c" style="left:1540.92px;top:375.5px;width:47.72px;height:27.3px;background:#FFFFEE;">午</div>
<div class="p c two k" style="left:1540.92px;top:402.8px;width:47.72px;height:49.2px;"><span>六白</span><span>金星</span></div>
<div class="p c two u" style="left:1540.92px;top:452px;width:47.72px;height:61.6px;"><span>準備</span><span>始動</span></div>
<div class="p n" style="left:1540.92px;top:513.6px;width:47.72px;height:27.6px;">2</div>
<div class="p n" style="left:1540.92px;top:620.7px;width:47.72px;height:27.6px;">2</div>
<div class="p dayh" style="left:1540.92px;top:648.3px;width:47.72px;height:27.2px;background:#FFFFA6;">29日</div>
<div class="p dayh" style="left:1588.65px;top:287.5px;width:47.72px;height:32.9px;background:#FFFFA6;">30日</div>
<div class="p c" style="left:1588.65px;top:320.4px;width:47.72px;height:27.5px;">水</div>
<div class="p c" style="left:1588.65px;top:347.9px;width:47.72px;height:27.6px;background:#FFFFEE;">丁</div>
<div class="p c" style="left:1588.65px;top:375.5px;width:47.72px;height:27.3px;background:#FFFFEE;">未</div>
<div class="p c two k" style="left:1588.65px;top:402.8px;width:47.72px;height:49.2px;"><span>五黄</span><span>土星</span></div>
<div class="p c two u" style="left:1588.65px;top:452px;width:47.72px;height:61.6px;"><span>開運</span><span>発展</span></div>
<div class="p n" style="left:1588.65px;top:513.6px;width:47.72px;height:27.6px;">8</div>
<div class="p n" style="left:1588.65px;top:620.7px;width:47.72px;height:27.6px;">8</div>
<div class="p dayh" style="left:1588.65px;top:648.3px;width:47.72px;height:27.2px;background:#FFFFA6;">30日</div>
<div class="p dayh" style="left:1636.37px;top:287.5px;width:47.72px;height:32.9px;background:#FFFFA6;">31日</div>
<div class="p c" style="left:1636.37px;top:320.4px;width:47.72px;height:27.5px;">土</div>
<div class="p c" style="left:1636.37px;top:347.9px;width:47.72px;height:27.6px;background:#FFFFEE;"></div>
<div class="p c" style="left:1636.37px;top:375.5px;width:47.72px;height:27.3px;background:#FFFFEE;"></div>
<div class="p dayh" style="left:1636.37px;top:648.3px;width:47.72px;height:27.2px;background:#FFFFA6;">31日</div>
<div class="p" style="left:113.5px;top:205.5px;width:140px;height:20px;font-size:18px">非売品</div>
<div class="p" style="left:113.5px;top:234.5px;width:140px;height:20px;font-size:18px">サイト掲載用</div>
<div class="p" style="left:113.5px;top:264px;width:140px;height:20px;font-size:18px">「無料版」</div>
<div class="p" style="left:252px;top:218px;width:240px;height:30px;font-size:27px;font-weight:bold;color:#002060">本命星／三碧木星</div>
<div class="p" style="left:1352px;top:264px;width:330px;height:20px;font-size:16px">発行者／MIKU RIONA</div>
<svg width="1800" height="1272" viewBox="0 0 1800 1272">
<text x="605" y="247" font-size="37" fill="#FF0000" textLength="183.5" lengthAdjust="spacingAndGlyphs" font-weight="bold"><tspan font-size="42">2026</tspan>年 <tspan font-size="42">9</tspan>月</text>
<text x="969" y="247" font-size="37" fill="#FF0000" stroke="#FF0000" stroke-width="1.1" textLength="239" lengthAdjust="spacingAndGlyphs" font-weight="bold">ラッキーグラフ</text>
<text x="577.3" y="280" font-size="16" fill="#FF0000" textLength="187" lengthAdjust="spacingAndGlyphs">※サイト掲載用 「非売品」</text>
<text x="786" y="280" font-size="16" fill="#FF0000" textLength="97.3" lengthAdjust="spacingAndGlyphs">無断転載禁止</text>
<text x="886" y="280" font-size="16" fill="#FF0000" textLength="80" lengthAdjust="spacingAndGlyphs">「無料版」</text>
<text x="973.3" y="280" font-size="16" fill="#FF0000" textLength="127" lengthAdjust="spacingAndGlyphs">MIKU RIONA LOG</text>
<text x="1112" y="280" font-size="16" fill="#FF0000" textLength="199" lengthAdjust="spacingAndGlyphs">＜https://miku-vlog7.com＞</text>
<text x="1394" y="240.5" font-size="21.5" fill="#44546A" textLength="236" lengthAdjust="spacingAndGlyphs" font-weight="bold">「良品購入」確率データ</text>
<text x="152" y="1047" font-size="24.6" fill="#000" textLength="861" lengthAdjust="spacingAndGlyphs"><tspan fill="#FF0000">好調期</tspan>／お買い物チャンスの時期！良い商品のご縁、お買い得品の確率アップ</text>
<text x="152" y="1073.3" font-size="24.6" fill="#000" textLength="787.2" lengthAdjust="spacingAndGlyphs"><tspan fill="#00B050">安定期</tspan>／比較的に良いお買い物ができる時期。高価なものは慎重に検討</text>
<text x="152" y="1099.6" font-size="24.6" fill="#000" textLength="861" lengthAdjust="spacingAndGlyphs"><tspan fill="#0070C0">低迷期</tspan>／お買い物は控えた方が良い時期。次回購入検討、候補リストの登録は</text>
<text x="1013.5" y="1099.6" font-size="24" fill="#000" textLength="22.5" lengthAdjust="spacingAndGlyphs">OK</text>
<text x="1077" y="1042" font-size="21" fill="#000" stroke="#000" stroke-width="0.35" textLength="150.5" lengthAdjust="spacingAndGlyphs">※無断転載禁止</text>
<text x="1243.1" y="1042" font-size="20" fill="#000" textLength="210" lengthAdjust="spacingAndGlyphs">https://miku-vlog7.com</text>
<text x="1458" y="1042" font-size="21" fill="#000" textLength="199" lengthAdjust="spacingAndGlyphs">（無料版）（非売品）</text>
<text x="1249" y="1070" font-size="20" fill="#000" textLength="287" lengthAdjust="spacingAndGlyphs">「MIKU RIONA LOG」 webサイト</text>
<text x="1069.2" y="1090.3" font-size="16" fill="#FF0000" textLength="605.6" lengthAdjust="spacingAndGlyphs" font-weight="bold">※当サイトの内容、テキスト、画像等の「無断転載・使用、許可なく販売」を固く禁じます。</text>
<text x="1083.6" y="1108.8" font-size="16" fill="#FF0000" textLength="455" lengthAdjust="spacingAndGlyphs" font-weight="bold">また、まとめサイト等への引用を厳禁致します 「非売品・無料版」</text>
<path d="M114 204.75H1684.85M114 1126.4H1684.85M114.75 204.75V1126.4M1684.1 204.75V1126.4M114.75 287.5H1684.1M114.75 320.4H1684.1M114.75 347.9H1684.1M114.75 375.5H1684.1M114.75 402.8H1684.1M114.75 452H1684.1M114.75 513.6H1684.1M114.75 541.2H1684.1M114.75 593.1H1684.1M114.75 620.7H1684.1M114.75 675.5H1684.1M114.75 1003.2H1684.1M204.65 648.3H1684.1M114.75 784.8H204.65M114.75 894H204.65M204.65 287.5V1003.2M252.37 287.5V675.5M300.1 287.5V675.5M347.82 287.5V675.5M395.55 287.5V675.5M443.27 287.5V675.5M490.99 287.5V675.5M538.72 287.5V675.5M586.44 287.5V675.5M634.17 287.5V675.5M681.89 287.5V675.5M729.61 287.5V675.5M777.34 287.5V675.5M825.06 287.5V675.5M872.79 287.5V675.5M920.51 287.5V675.5M968.23 287.5V675.5M1015.96 287.5V675.5M1063.68 287.5V675.5M1111.41 287.5V675.5M1159.13 287.5V675.5M1206.85 287.5V675.5M1254.58 287.5V675.5M1302.3 287.5V675.5M1350.03 287.5V675.5M1397.75 287.5V675.5M1445.47 287.5V675.5M1493.2 287.5V675.5M1540.92 287.5V675.5M1588.65 287.5V675.5M1636.37 287.5V675.5M1063.68 1003.2V1126.4M538.72 204.75V260M1350.03 204.75V260M537.97 260H1350.78" stroke="#1a1a1a" stroke-width="1.45" fill="none"/>
<path d="M206.5 849.3H1682" stroke="#808080" stroke-width="1" fill="none"/>
<polyline points="230.3,912.86 277.88,806.76 325.45,679.44 373.03,827.98 420.6,764.32 468.18,700.66 515.76,721.88 563.33,891.64 610.91,743.1 658.48,912.86 706.06,806.76 753.64,679.44 801.21,827.98 848.79,764.32 896.36,870.42 943.94,721.88 991.52,891.64 1039.09,743.1 1086.67,912.86 1134.24,806.76 1181.82,679.44 1229.4,997.74 1276.97,764.32 1324.55,700.66 1372.12,721.88 1419.7,891.64 1467.28,743.1 1514.85,912.86 1562.43,806.76 1610,679.44" fill="none" stroke="#002060" stroke-width="6.2" stroke-linejoin="round" stroke-linecap="round"/>
<path d="M230.3 907.26l5.6 5.6l-5.6 5.6l-5.6 -5.6zM277.88 801.16l5.6 5.6l-5.6 5.6l-5.6 -5.6zM325.45 673.84l5.6 5.6l-5.6 5.6l-5.6 -5.6zM373.03 822.38l5.6 5.6l-5.6 5.6l-5.6 -5.6zM420.6 758.72l5.6 5.6l-5.6 5.6l-5.6 -5.6zM468.18 695.06l5.6 5.6l-5.6 5.6l-5.6 -5.6zM515.76 716.28l5.6 5.6l-5.6 5.6l-5.6 -5.6zM563.33 886.04l5.6 5.6l-5.6 5.6l-5.6 -5.6zM610.91 737.5l5.6 5.6l-5.6 5.6l-5.6 -5.6zM658.48 907.26l5.6 5.6l-5.6 5.6l-5.6 -5.6zM706.06 801.16l5.6 5.6l-5.6 5.6l-5.6 -5.6zM753.64 673.84l5.6 5.6l-5.6 5.6l-5.6 -5.6zM801.21 822.38l5.6 5.6l-5.6 5.6l-5.6 -5.6zM848.79 758.72l5.6 5.6l-5.6 5.6l-5.6 -5.6zM896.36 864.82l5.6 5.6l-5.6 5.6l-5.6 -5.6zM943.94 716.28l5.6 5.6l-5.6 5.6l-5.6 -5.6zM991.52 886.04l5.6 5.6l-5.6 5.6l-5.6 -5.6zM1039.09 737.5l5.6 5.6l-5.6 5.6l-5.6 -5.6zM1086.67 907.26l5.6 5.6l-5.6 5.6l-5.6 -5.6zM1134.24 801.16l5.6 5.6l-5.6 5.6l-5.6 -5.6zM1181.82 673.84l5.6 5.6l-5.6 5.6l-5.6 -5.6zM1229.4 992.14l5.6 5.6l-5.6 5.6l-5.6 -5.6zM1276.97 758.72l5.6 5.6l-5.6 5.6l-5.6 -5.6zM1324.55 695.06l5.6 5.6l-5.6 5.6l-5.6 -5.6zM1372.12 716.28l5.6 5.6l-5.6 5.6l-5.6 -5.6zM1419.7 886.04l5.6 5.6l-5.6 5.6l-5.6 -5.6zM1467.28 737.5l5.6 5.6l-5.6 5.6l-5.6 -5.6zM1514.85 907.26l5.6 5.6l-5.6 5.6l-5.6 -5.6zM1562.43 801.16l5.6 5.6l-5.6 5.6l-5.6 -5.6zM1610 673.84l5.6 5.6l-5.6 5.6l-5.6 -5.6z" fill="#D00000"/>
</svg>
</body></html>
